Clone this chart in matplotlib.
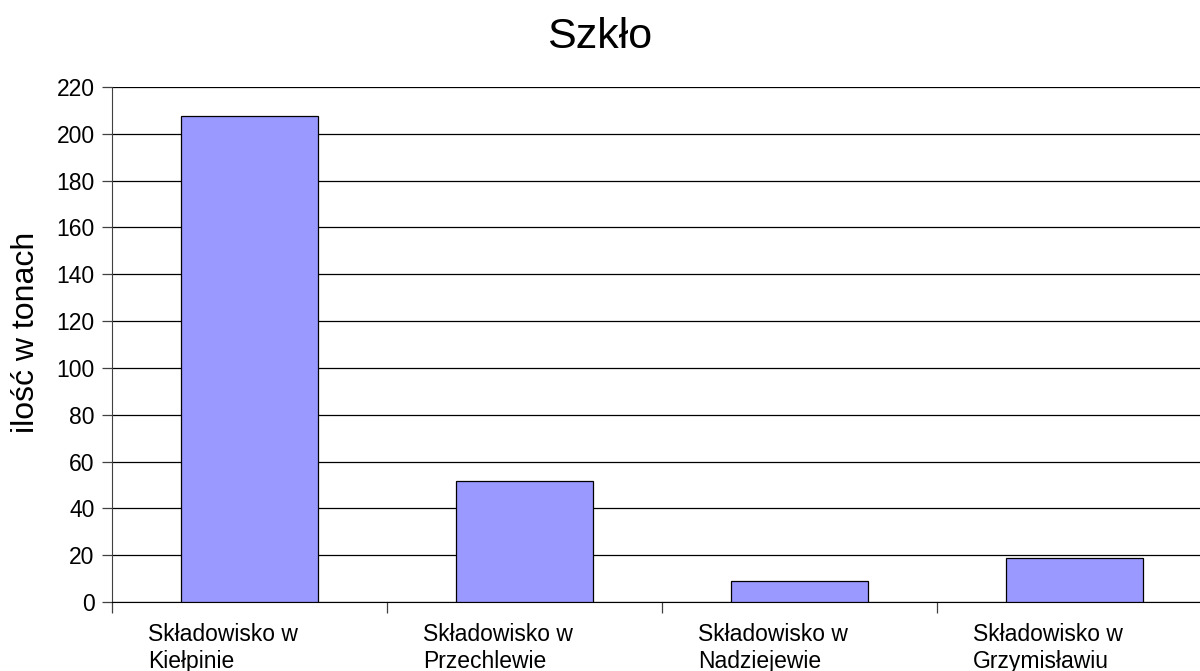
import numpy as np
import matplotlib
matplotlib.use("Agg")
import matplotlib.pyplot as plt

plt.rcParams['font.family'] = ['Liberation Sans', 'DejaVu Sans']

# Dane
kategorie = ["Składowisko w\nKiełpinie", "Składowisko w\nPrzechlewie",
             "Składowisko w\nNadziejewie", "Składowisko w\nGrzymisławiu"]
wartosci = [207.6, 51.8, 9.0, 18.7]
y_ticks = list(range(0, 221, 20))

fig = plt.figure(figsize=(12, 6.71), dpi=100)
ax = fig.add_axes([112/1200, 69/671, 1100/1200, 515/671])

x = np.arange(len(kategorie))
ax.bar(x, wartosci, width=0.5, color='#9999FF', edgecolor='black', linewidth=0.9, zorder=3)

ax.set_xlim(-0.5, len(kategorie) - 0.5)
ax.set_ylim(0, 220)
ax.set_yticks(y_ticks)
ax.yaxis.grid(True, color='black', linewidth=0.9, zorder=0)
ax.tick_params(axis='y', labelsize=16.5, length=7.5, width=0.9, color='#404040', pad=5)

# granice kategorii jako podzialki osi x
ax.set_xticks(np.arange(len(kategorie) + 1) - 0.5)
ax.set_xticklabels([])
ax.tick_params(axis='x', which='major', length=8, width=0.9, color='#404040')
ax.set_xticks(x - 0.37, minor=True)
ax.set_xticklabels(kategorie, minor=True, ha='left', fontsize=16.5, linespacing=1.25)
ax.tick_params(axis='x', which='minor', length=0, pad=15)

for s in ['top', 'right']:
    ax.spines[s].set_visible(False)
ax.spines['left'].set_color('#404040')
ax.spines['bottom'].set_color('black')

ax.set_ylabel('ilość w tonach', fontsize=23)
ax.yaxis.set_label_coords(-0.0645, 0.524)
fig.suptitle('Szkło', fontsize=31, y=0.975)

fig.savefig('out.png', dpi=100)
